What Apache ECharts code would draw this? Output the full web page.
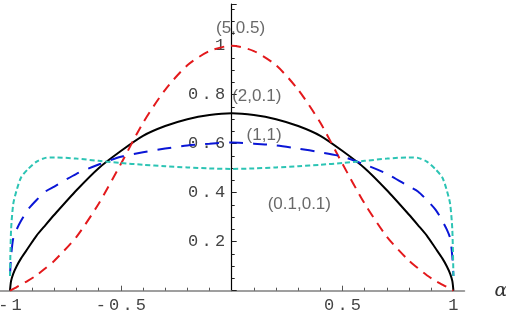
<!DOCTYPE html>
<html>
<head>
<meta charset="utf-8">
<script src="https://cdn.jsdelivr.net/npm/echarts@6/dist/echarts.min.js"></script>
<style>
  html, body { margin: 0; padding: 0; background: #fff; }
  #main { width: 506px; height: 316px; }
</style>
</head>
<body>
<div id="main"></div>
<script>
// sample positions along alpha (shared by all curves)
var xs = [-1, -0.995, -0.985, -0.97, -0.95, -0.92, -0.88, -0.84, -0.8, -0.7, -0.6, -0.5, -0.4, -0.3, -0.2, -0.1,
  0, 0.1, 0.2, 0.3, 0.4, 0.5, 0.6, 0.7, 0.8, 0.84, 0.88, 0.92, 0.95, 0.97, 0.985, 0.995, 1];

// (5,0.5) red dashed
var redY = [0, 0.002, 0.007, 0.015, 0.025, 0.04, 0.063, 0.092, 0.122, 0.22, 0.355, 0.517, 0.685, 0.82, 0.92, 0.978,
  1, 0.978, 0.92, 0.82, 0.685, 0.517, 0.355, 0.22, 0.122, 0.092, 0.063, 0.04, 0.025, 0.015, 0.007, 0.002, 0];
// (2,0.1) black solid
var blackY = [0, 0.04, 0.07, 0.1, 0.132, 0.172, 0.225, 0.268, 0.31, 0.41, 0.5, 0.57, 0.632, 0.672, 0.7, 0.717,
  0.724, 0.717, 0.7, 0.672, 0.632, 0.57, 0.5, 0.41, 0.31, 0.268, 0.225, 0.172, 0.132, 0.1, 0.07, 0.04, 0];
// (1,1) blue long dashes
var blueY = [0.06, 0.14, 0.215, 0.25, 0.285, 0.33, 0.37, 0.405, 0.425, 0.477, 0.515, 0.547, 0.565, 0.58, 0.593, 0.6,
  0.605, 0.6, 0.593, 0.58, 0.565, 0.547, 0.515, 0.477, 0.425, 0.405, 0.37, 0.33, 0.285, 0.25, 0.215, 0.14, 0.06];
// (0.1,0.1) cyan short dashes
var cyanY = [0.06, 0.25, 0.355, 0.41, 0.462, 0.495, 0.527, 0.542, 0.544, 0.539, 0.53, 0.521, 0.514, 0.508, 0.503, 0.499,
  0.497, 0.499, 0.503, 0.508, 0.514, 0.521, 0.53, 0.539, 0.544, 0.542, 0.527, 0.495, 0.462, 0.41, 0.355, 0.25, 0.06];

var xTicks = [-1, -0.9, -0.8, -0.7, -0.6, -0.5, -0.4, -0.3, -0.2, -0.1, 0.1, 0.2, 0.3, 0.4, 0.5, 0.6, 0.7, 0.8, 0.9, 1];
var xMajor = [-1, -0.5, 0.5, 1];
var yLabels = [0.2, 0.4, 0.6, 0.8, 1];

// curve annotations: [alpha, value, text]
var notes = [
  [0.04, 1.07, '(5,0.5)'],
  [0.113, 0.795, '(2,0.1)'],
  [0.146, 0.633, '(1,1)'],
  [0.305, 0.354, '(0.1,0.1)']
];

var X_MIN = -1.045, X_MAX = 1.05;
var W = 506, GRID_RIGHT = 41.5;

function pairs(ys) {
  return xs.map(function (x, i) { return [x, ys[i]]; });
}

// monospace labels with a bit of letter spacing, like the original
function spaced(s) {
  return s.split('').map(function (c) { return '{c|' + c + '}'; }).join('');
}
var monoRich = {
  c: { fontFamily: 'Liberation Mono', fontSize: 17, color: '#444', padding: [0, 1.6, 0, 1.6] }
};

// y axis sits at alpha = 0, inside the grid
var plotW = W - GRID_RIGHT;
var yOffset = -plotW * (0 - X_MIN) / (X_MAX - X_MIN);

var chart = echarts.init(document.getElementById('main'), null, { renderer: 'canvas' });

var option = {
  animation: false,
  backgroundColor: '#fff',
  grid: { left: 0, right: GRID_RIGHT, top: 4, bottom: 25.3, containLabel: false, outerBoundsMode: 'none' },
  xAxis: [
    {
      type: 'value', min: X_MIN, max: X_MAX,
      splitLine: { show: false },
      axisLine: { onZero: false, lineStyle: { color: '#808080', width: 1.5 } },
      axisTick: { show: true, inside: true, length: 3, customValues: xTicks, lineStyle: { color: '#555' } },
      axisLabel: {
        customValues: xMajor, margin: 6,
        formatter: function (v) { return spaced(String(v)); },
        rich: monoRich
      },
      name: 'α', nameLocation: 'end', nameGap: 30,
      nameTextStyle: {
        fontFamily: 'DejaVu Serif', fontStyle: 'italic', fontSize: 19, color: '#333',
        padding: [0, 0, 12, 0]
      }
    },
    {
      type: 'value', min: X_MIN, max: X_MAX, position: 'bottom',
      splitLine: { show: false },
      axisLine: { show: false, onZero: false },
      axisTick: { show: true, inside: true, length: 5, customValues: xMajor, lineStyle: { color: '#555' } },
      axisLabel: { show: false }
    }
  ],
  yAxis: {
    type: 'value', min: 0, max: 1.17, interval: 0.2, position: 'left', offset: yOffset,
    splitLine: { show: false },
    axisLine: { onZero: false, lineStyle: { color: '#000', width: 1.2 } },
    axisTick: { show: true, inside: true, length: 5, lineStyle: { color: '#222' } },
    minorTick: { show: true, splitNumber: 4, length: 3, lineStyle: { color: '#222' } },
    axisLabel: {
      customValues: yLabels, margin: 5,
      formatter: function (v) { return spaced(String(v)); },
      rich: monoRich
    }
  },
  series: [
    {
      type: 'line', data: pairs(redY), showSymbol: false, smooth: 0.25,
      lineStyle: { color: '#e3191c', width: 2, type: [10, 7] }, z: 3
    },
    {
      type: 'line', data: pairs(blackY), showSymbol: false, smooth: 0.25,
      lineStyle: { color: '#000', width: 2, type: 'solid' }, z: 2
    },
    {
      type: 'line', data: pairs(blueY), showSymbol: false, smooth: 0.25,
      lineStyle: { color: '#0a16d6', width: 2, type: [14, 10] }, z: 3
    },
    {
      type: 'line', data: pairs(cyanY), showSymbol: false, smooth: 0.25,
      lineStyle: { color: '#2cc4b4', width: 2, type: [5, 3] }, z: 3
    },
    {
      type: 'scatter', data: notes, symbolSize: 0, z: 5, silent: true,
      label: {
        show: true, position: 'inside',
        formatter: function (p) { return p.data[2]; },
        fontFamily: 'Liberation Sans', fontSize: 17, color: '#444'
      }
    }
  ]
};

chart.setOption(option);
</script>
</body>
</html>
